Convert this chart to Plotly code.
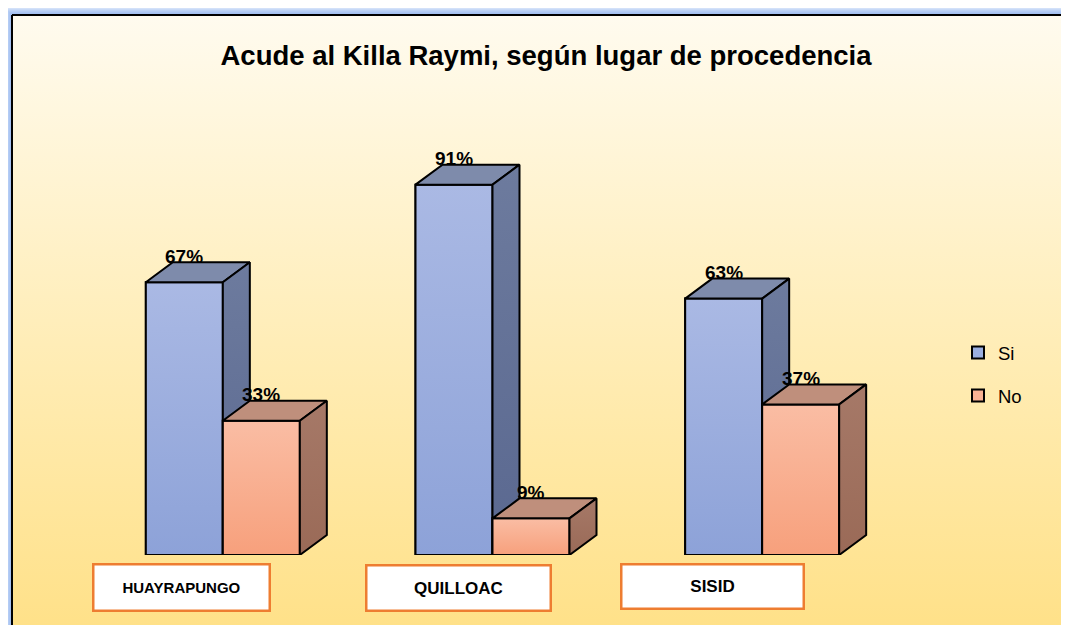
import plotly.graph_objects as go

# ---------------- data ----------------
categories = ["HUAYRAPUNGO", "QUILLOAC", "SISID"]
series_names = ["Si", "No"]
si_values = [67, 91, 63]
no_values = [33, 9, 37]
title_text = "Acude al Killa Raymi, según lugar de procedencia"

# ---------------- style ----------------
OFF = 8                                      # page body margin
W, H = 1069 - 2 * OFF, 633 - 2 * OFF
FONT = "Liberation Sans, Arial, sans-serif"


def fx(px):   # page px -> paper x
    return (px - OFF) / W


def fy(py):   # page px -> paper y
    return 1 - (py - OFF) / H


PL, PR, PT, PB = 88, 897, 148, 555          # plot area (page px)
PX_PER_CAT = (PR - PL) / 3.0
PX_PER_UNIT = (PB - PT) / 100.0
BW = 77 / PX_PER_CAT                         # bar width (category units)
DX = 27 / PX_PER_CAT                         # 3D depth, x
DY = 20 / PX_PER_UNIT                        # 3D depth, y

styles = {
    "Si": dict(offset=-BW, bar="#9AAEE0", front=("#8DA2D8", "#AAB9E4"),
               top="#7E8BAB", side=("#5A6890", "#6D7B9E"),
               xa="x2", ya="y2"),
    "No": dict(offset=0.0, bar="#F9B294", front=("#F7A07C", "#FABDA4"),
               top="#BF8F7C", side=("#9A6A57", "#A67968"),
               xa="x3", ya="y3"),
}
label_shift_px = [-41.5, -34, -49.5]
label_box = [(179, 49, 15), (187, 48, 17), (185, 47, 17)]
label_cy = [587.5, 587.5, 586.5]
LINE = dict(color="black", width=2)

fig = go.Figure()

# background gradient panel
fig.add_trace(go.Scatter(
    x=[fx(12), 1, 1, fx(12), fx(12)], y=[0, 0, fy(15), fy(15), 0],
    fill="toself", mode="none",
    fillgradient=dict(type="vertical",
                      colorscale=[[0, "#FFE189"], [0.5, "#FFEEBB"], [1, "#FFFBEF"]]),
    hoverinfo="skip", showlegend=False, xaxis="x", yaxis="y"))

idx = list(range(len(categories)))
values = {"Si": si_values, "No": no_values}


def poly(xs, ys, xa, ya, fillcolor=None, grad=None):
    kw = dict(x=xs + [xs[0]], y=ys + [ys[0]], mode="lines", fill="toself",
              line=LINE, hoverinfo="skip", showlegend=False, xaxis=xa, yaxis=ya)
    if grad is not None:
        kw["fillgradient"] = dict(type="vertical",
                                  colorscale=[[0, grad[0]], [1, grad[1]]])
    else:
        kw["fillcolor"] = fillcolor
    return go.Scatter(**kw)


for name in series_names:
    st = styles[name]
    vals = values[name]
    fig.add_trace(go.Bar(
        x=idx, y=vals, width=BW, offset=st["offset"], name=name,
        legendgroup=name, marker=dict(color=st["bar"], line=LINE),
        xaxis=st["xa"], yaxis=st["ya"], hoverinfo="skip"))
    for i, v in zip(idx, vals):
        x0 = i + st["offset"]
        x1 = x0 + BW
        fig.add_trace(poly([x0, x1, x1, x0], [0, 0, v, v], st["xa"], st["ya"],
                           grad=st["front"]))
        fig.add_trace(poly([x0, x0 + DX, x1 + DX, x1], [v, v + DY, v + DY, v],
                           st["xa"], st["ya"], fillcolor=st["top"]))
        fig.add_trace(poly([x1, x1 + DX, x1 + DX, x1], [0, DY, v + DY, v],
                           st["xa"], st["ya"], grad=st["side"]))

annotations = []
# value labels
for name in series_names:
    st = styles[name]
    for i, v in zip(idx, values[name]):
        annotations.append(dict(
            x=i + st["offset"] + BW / 2, y=v, xref=st["xa"], yref=st["ya"],
            yshift=26, text=f"<b>{v}%</b>", showarrow=False,
            xanchor="center", yanchor="middle",
            font=dict(family=FONT, size=19, color="black")))
# category label boxes
for i, cat in enumerate(categories):
    bw_, bh_, fs = label_box[i]
    annotations.append(dict(
        x=i, xref="x2", xshift=label_shift_px[i], y=fy(label_cy[i]), yref="paper",
        xanchor="center", yanchor="middle",
        text=f"<b>{cat}</b>", showarrow=False, bgcolor="white",
        bordercolor="#EE7D31", borderwidth=2.5, borderpad=0,
        width=bw_ - 5, height=bh_ - 5,
        font=dict(family=FONT, size=fs, color="black")))

shapes = []
# glow around frame
for k in range(1, 10):
    shapes.append(dict(type="rect", xref="paper", yref="paper",
                       x0=fx(12 - k), x1=1.02, y0=-0.02, y1=fy(15 - k),
                       fillcolor="#6E9BEE", opacity=0.11, line=dict(width=0),
                       layer="below"))
# frame lines
shapes.append(dict(type="line", xref="paper", yref="paper", x0=fx(12), x1=1,
                   y0=fy(15), y1=fy(15), line=dict(color="black", width=2)))
shapes.append(dict(type="line", xref="paper", yref="paper", x0=fx(12), x1=fx(12),
                   y0=0, y1=fy(15), line=dict(color="black", width=2)))

hidden = dict(visible=False, showgrid=False, zeroline=False, fixedrange=True)
fig.update_layout(
    width=W, height=H, margin=dict(l=0, r=0, t=0, b=0),
    paper_bgcolor="white", plot_bgcolor="rgba(0,0,0,0)",
    font=dict(family=FONT, color="black"),
    title=dict(text=f"<b>{title_text}</b>", x=fx(546), xanchor="center",
               y=fy(55), yanchor="middle", xref="paper", yref="paper",
               font=dict(family=FONT, size=27.5, color="black")),
    xaxis=dict(domain=[0, 1], range=[0, 1], **hidden),
    yaxis=dict(domain=[0, 1], range=[0, 1], **hidden),
    xaxis2=dict(domain=[fx(PL), fx(PR)], range=[-0.5, 2.5], anchor="y2", **hidden),
    yaxis2=dict(domain=[fy(PB), fy(PT)], range=[0, 100], anchor="x2", **hidden),
    xaxis3=dict(overlaying="x2", range=[-0.5, 2.5], anchor="y3", **hidden),
    yaxis3=dict(overlaying="y2", range=[0, 100], anchor="x3", **hidden),
    barmode="overlay",
    showlegend=True,
    legend=dict(x=fx(958), xanchor="left", y=fy(334), yanchor="top",
                font=dict(family=FONT, size=18.5, color="black"),
                bgcolor="rgba(0,0,0,0)", tracegroupgap=16, itemclick=False,
                itemdoubleclick=False),
    annotations=annotations, shapes=shapes,
)

fig.write_html("out.html")
